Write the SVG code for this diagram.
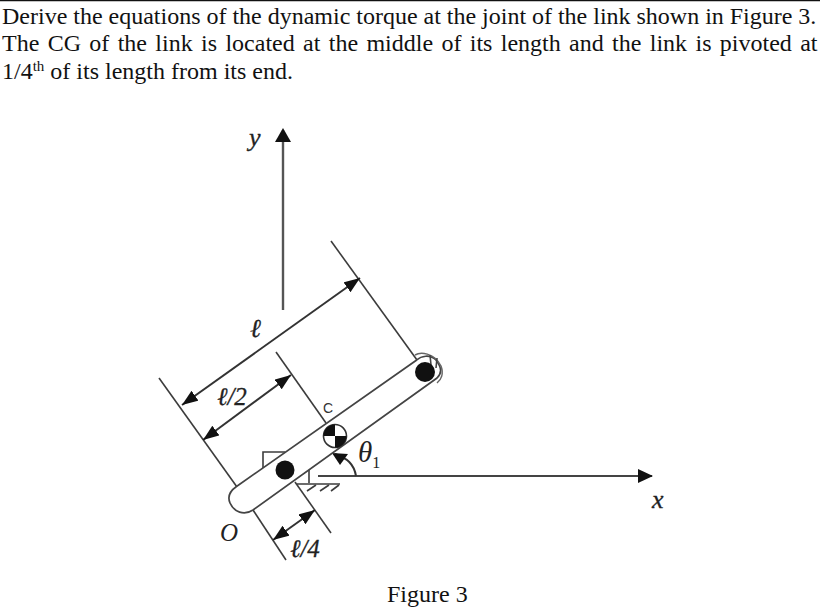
<svg xmlns="http://www.w3.org/2000/svg" width="820" height="607" viewBox="0 0 820 607">
<style>
.t{font-family:"Liberation Serif","Times New Roman",serif;font-size:24px;fill:#111}
.i{font-family:"Liberation Serif","Times New Roman",serif;font-style:italic;fill:#222}
.m{stroke:#222;stroke-width:.3}
.l{fill:none;stroke:#3c3c3c;stroke-width:1.6}
.h{fill:none;stroke:#333;stroke-width:2}
.a{fill:#111;stroke:none}
</style>
<defs>
<marker id="ar" markerUnits="userSpaceOnUse" markerWidth="18" markerHeight="14" refX="16" refY="6" orient="auto-start-reverse"><path d="M0 0L16 6L0 12Z" fill="#111"/></marker>
</defs>
<rect width="820" height="607" fill="#fff"/>
<path d="M0 0.5H820" stroke="#111" stroke-width="1.5"/>
<g id="question">
<text class="t" x="2" y="24" word-spacing="-0.05">Derive the equations of the dynamic torque at the joint of the link shown in Figure 3.</text>
<text class="t" x="2" y="51" word-spacing="2.35">The CG of the link is located at the middle of its length and the link is pivoted at</text>
<text class="t" x="2" y="79">1/4<tspan font-size="15" dy="-8">th</tspan><tspan dy="8"> of its length from its end.</tspan></text>
</g>
<g id="connectors">
<path d="M283 310V130" stroke="#555" stroke-width="2.4" fill="none"/>
<path class="a" d="M283 128L291 142H275Z"/>
<path d="M318 476H652" stroke="#444" stroke-width="2" fill="none"/>
<path class="a" d="M653 476L638 469V483Z"/>
<path class="l" d="M331 241L417 360"/>
<path class="l" d="M159 378L237 487"/>
<path class="l" d="M276 352L326 423"/>
<path class="l" d="M253 510L286 560"/>
<path class="l" d="M295 482L331 533"/>
<path class="h" d="M182 405L360 278" marker-start="url(#ar)" marker-end="url(#ar)"/>
<path class="h" d="M203 440L291 375" marker-start="url(#ar)" marker-end="url(#ar)"/>
<path class="h" d="M273 540L315 510" marker-start="url(#ar)" marker-end="url(#ar)"/>
<path class="h" d="M356 476C354 464 347 458 335 454"/>
<path class="a" d="M332 453L348 454L340 465Z"/>
</g>
<g id="ground">
<path class="l" d="M263 468V452H285"/>
<path class="l" d="M309 469V483M297 484H340"/>
<path class="l" d="M307 491L316 485M320 491L329 485M331 491L339 485" stroke-width="1.2"/>
</g>
<g id="link">
<path d="M236.500 486.500L416.700 360C421 356 430 354 436 360C442 368 442 373 437 378L253 510C244 516 234 512 230 503C227 496 230 491 236.500 486.500Z" fill="#fff" stroke="#444" stroke-width="1.7"/>
<path d="M415 355C420 352 434 352 441 366C444 374 441 380 437 383" fill="none" stroke="#666" stroke-width="1.5"/>
<path d="M430 355L431 365M437 358L436 368" fill="none" stroke="#444" stroke-width="1.6"/>
</g>
<g id="pivot-top"><circle cx="425" cy="372" r="10" fill="#111"/></g>
<g id="pivot"><circle cx="285" cy="470" r="9.500" fill="#111"/></g>
<g id="cg">
<circle cx="335" cy="436" r="11.500" fill="#fff" stroke="#333" stroke-width="1.6"/>
<path d="M335 436V424.500A11.500 11.500 0 0 0 323.500 436ZM335 436V447.500A11.500 11.500 0 0 0 346.500 436Z" fill="#111"/>
</g>
<g id="labels">
<text class="i m" x="249" y="146" font-size="26">y</text>
<text class="i m" x="250" y="337" font-size="26">ℓ</text>
<text class="i m" x="217" y="405" font-size="25">ℓ/2</text>
<text class="i m" x="290" y="557" font-size="25">ℓ/4</text>
<text x="323" y="413" font-size="14" font-family="Liberation Sans,sans-serif" fill="#333">C</text>
<text class="i" x="220" y="541" font-size="25">O</text>
<text class="i" x="358" y="462" font-size="29">θ<tspan font-size="16" dy="6" font-style="normal">1</tspan></text>
<text class="i m" x="652" y="508" font-size="26">x</text>
<text class="t" x="387" y="602">Figure 3</text>
</g>
</svg>
